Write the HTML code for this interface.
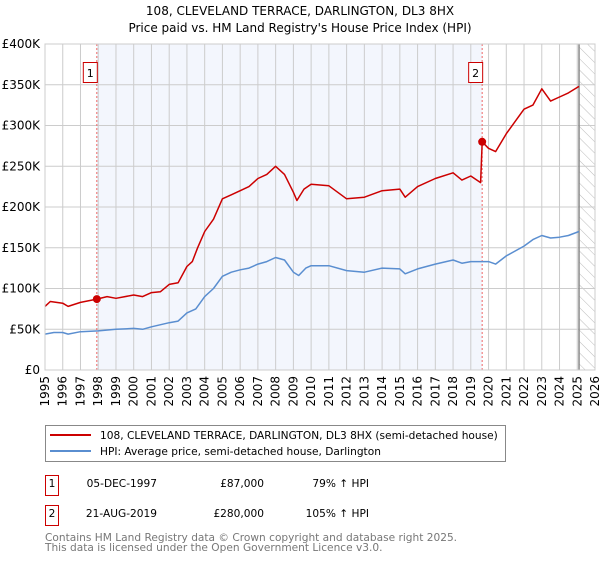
<!DOCTYPE html>
<html><head><meta charset="utf-8"><style>
body{margin:0;background:#fff;font-family:"DejaVu Sans","Liberation Sans",sans-serif;}
svg text{font-family:"DejaVu Sans","Liberation Sans",sans-serif;}
</style></head><body>
<svg id="c" width="600" height="560" xmlns="http://www.w3.org/2000/svg">
<defs><pattern id="hatch" width="8" height="8" patternUnits="userSpaceOnUse" patternTransform="rotate(-45)"><line x1="0" y1="0" x2="0" y2="8" stroke="#bbb" stroke-width="1"/></pattern></defs>
<text x="300" y="15" text-anchor="middle" font-size="12" fill="#000">108, CLEVELAND TERRACE, DARLINGTON, DL3 8HX</text>
<text x="300" y="32" text-anchor="middle" font-size="12" fill="#000">Price paid vs. HM Land Registry's House Price Index (HPI)</text>
<g id="plot"></g>
<g>
<rect x="45.5" y="425.5" width="460" height="36" fill="#fff" stroke="#888"/>
<line x1="50" y1="435" x2="91" y2="435" stroke="#cc0000" stroke-width="2"/>
<text x="100" y="439" font-size="10.6">108, CLEVELAND TERRACE, DARLINGTON, DL3 8HX (semi-detached house)</text>
<line x1="50" y1="451" x2="91" y2="451" stroke="#5a8ed0" stroke-width="2"/>
<text x="100" y="455" font-size="10.6">HPI: Average price, semi-detached house, Darlington</text>
</g>
<g font-size="10.6">
<rect x="45.5" y="475.5" width="13" height="20" fill="#fff" stroke="#cc0000"/>
<text x="52" y="487" text-anchor="middle">1</text>
<text x="157" y="487" text-anchor="end">05-DEC-1997</text>
<text x="264" y="487" text-anchor="end">£87,000</text>
<text x="369" y="487" text-anchor="end">79% ↑ HPI</text>
<rect x="45.5" y="505.5" width="13" height="20" fill="#fff" stroke="#cc0000"/>
<text x="52" y="517" text-anchor="middle">2</text>
<text x="157" y="517" text-anchor="end">21-AUG-2019</text>
<text x="264" y="517" text-anchor="end">£280,000</text>
<text x="369" y="517" text-anchor="end">105% ↑ HPI</text>
</g>
<text x="45" y="541" font-size="10.6" fill="#777">Contains HM Land Registry data © Crown copyright and database right 2025.</text>
<text x="45" y="551" font-size="10.6" fill="#777">This data is licensed under the Open Government Licence v3.0.</text>
</svg>
<script>
const hpiYears=[1995,1995.5,1996,1996.3,1997,1998,1999,2000,2000.5,2001,2002,2002.5,2003,2003.5,2004,2004.5,2005,2005.5,2006,2006.5,2007,2007.5,2008,2008.5,2009,2009.3,2009.7,2010,2011,2012,2013,2014,2015,2015.3,2016,2017,2018,2018.5,2019,2019.6,2020,2020.4,2021,2022,2022.5,2023,2023.5,2024,2024.5,2025.1];
const hpiValues=[44,46,46,44,47,48,50,51,50,53,58,60,70,75,90,100,115,120,123,125,130,133,138,135,120,116,125,128,128,122,120,125,124,118,124,130,135,131,133,133,133,130,140,152,160,165,162,163,165,170];
const priceYears=[1995,1995.3,1996,1996.3,1997,1997.92,1998.5,1999,2000,2000.5,2001,2001.5,2002,2002.5,2003,2003.3,2003.6,2004,2004.5,2005,2005.5,2006,2006.5,2007,2007.5,2008,2008.5,2009,2009.2,2009.6,2010,2011,2012,2013,2014,2015,2015.3,2016,2017,2018,2018.5,2019,2019.55,2019.64,2020,2020.4,2021,2022,2022.5,2023,2023.5,2024,2024.5,2025.1];
const priceValues=[78,84,82,78,83,87,90,88,92,90,95,96,105,107,127,133,150,170,185,210,215,220,225,235,240,250,240,218,208,222,228,226,210,212,220,222,212,225,235,242,233,238,230,280,272,268,290,320,325,345,330,335,340,348];
const saleYears=[1997.92,2019.64];
const saleValues=[87,280];
const saleLabels=["1","2"];
const yTicks=[0,50,100,150,200,250,300,350,400];
const yTickLabels=["£0","£50K","£100K","£150K","£200K","£250K","£300K","£350K","£400K"];
const xTicks=[1995,1996,1997,1998,1999,2000,2001,2002,2003,2004,2005,2006,2007,2008,2009,2010,2011,2012,2013,2014,2015,2016,2017,2018,2019,2020,2021,2022,2023,2024,2025,2026];

const X0=45,X1=595,Y0=370,Y1=44;
const xs=v=>X0+(v-1995)/(2026-1995)*(X1-X0);
const ys=v=>Y0-v/400*(Y0-Y1);
const NS="http://www.w3.org/2000/svg";
const g=document.getElementById('plot');
function mk(t,a){const e=document.createElementNS(NS,t);for(const k in a)e.setAttribute(k,a[k]);g.appendChild(e);return e;}
let e;
e=mk('rect',{x:xs(saleYears[0]),y:Y1,width:xs(saleYears[1])-xs(saleYears[0]),height:Y0-Y1,fill:'#f3f6fd'});


e=mk('rect',{x:xs(2025.1),y:Y1,width:X1-xs(2025.1),height:Y0-Y1,fill:'url(#hatch)'});


xTicks.forEach((t,i)=>{
 e=mk('line',{x1:xs(t),x2:xs(t),y1:Y1,y2:Y0,stroke:'#ccc','stroke-width':1});
 
 
 e=mk('text',{x:0,y:0,'font-size':12,'text-anchor':'end',transform:`translate(${xs(t)+4},${Y0+6}) rotate(-90)`});
 e.textContent=t;
 
 
});
yTicks.forEach((t,i)=>{
 e=mk('line',{x1:X0,x2:X1,y1:ys(t),y2:ys(t),stroke:'#ccc','stroke-width':1});
 
 
 e=mk('text',{x:X0-5,y:ys(t)+4,'font-size':12,'text-anchor':'end'});
 e.textContent=yTickLabels[i];
 
 
});
e=mk('line',{x1:xs(2025.1),x2:xs(2025.1),y1:Y1,y2:Y0,stroke:'#888','stroke-width':1.5});


saleYears.forEach((s,i)=>{
 e=mk('line',{x1:xs(s),x2:xs(s),y1:Y1,y2:Y0,stroke:'#e66','stroke-width':1,'stroke-dasharray':'2,2'});
 
 
 e=mk('rect',{x:xs(s)-13.5,y:62.5,width:14,height:20,fill:'#fff',stroke:'#cc0000'});
 
 
 e=mk('text',{x:xs(s)-6.5,y:77,'font-size':11,'text-anchor':'middle'});
 e.textContent=saleLabels[i];
 
 
});
function line(xa,va,c,n){
 const d=xa.map((x,i)=>(i?'L':'M')+xs(x).toFixed(1)+','+ys(va[i]).toFixed(1)).join('');
 e=mk('path',{d:d,fill:'none',stroke:c,'stroke-width':1.5,'stroke-linejoin':'round'});
 
 
}
line(hpiYears,hpiValues,'#5a8ed0','hpi-line');
line(priceYears,priceValues,'#cc0000','price-line');
saleYears.forEach((s,i)=>{
 e=mk('circle',{cx:xs(s),cy:ys(saleValues[i]),r:4,fill:'#cc0000'});
 
 
});
e=mk('rect',{x:X0,y:Y1,width:X1-X0,height:Y0-Y1,fill:'none',stroke:'#ccc'});


</script>
</body></html>
